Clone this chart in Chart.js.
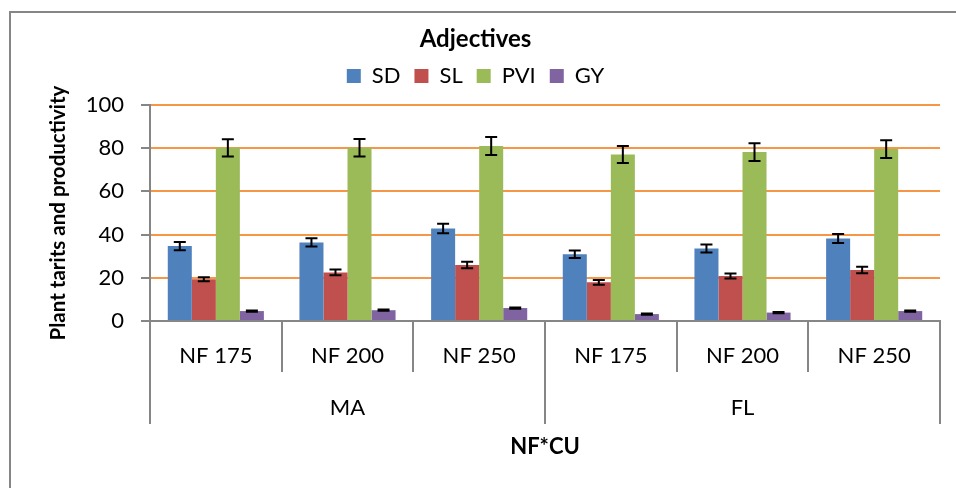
<!DOCTYPE html>
<html>
<head>
<meta charset="utf-8">
<script src="https://cdn.jsdelivr.net/npm/chart.js@4/dist/chart.umd.min.js"></script>
<style>
  html, body { margin: 0; padding: 0; background: #fff; }
  #frame {
    position: absolute; left: 9px; top: 11px;
    width: 945px; height: 475px;
    border-left: 2px solid #868686; border-top: 2px solid #868686;
  }
  canvas { display: block; }
</style>
</head>
<body>
<div id="frame"><canvas id="chart" width="945" height="475"></canvas></div>
<script>
// values
const categories = ["NF 175", "NF 200", "NF 250", "NF 175", "NF 200", "NF 250"];
const groups = ["MA", "FL"];
const seriesNames = ["SD", "SL", "PVI", "GY"];
const sdValues = [34.7, 36.4, 42.8, 30.9, 33.6, 38.2];
const slValues = [19.3, 22.5, 25.9, 17.9, 20.8, 23.6];
const pviValues = [80.2, 80.2, 81.0, 77.1, 78.2, 79.6];
const gyValues = [4.6, 5.0, 6.0, 3.2, 3.9, 4.6];
const sdErrors = [1.9, 1.9, 2.2, 1.7, 1.85, 2.1];
const slErrors = [0.9, 1.3, 1.5, 1.1, 1.15, 1.5];
const pviErrors = [4.0, 4.1, 4.2, 3.9, 4.1, 4.1];
const gyErrors = [0.3, 0.3, 0.3, 0.3, 0.3, 0.3];
const yTicks = [0, 20, 40, 60, 80, 100];

const colors = ["#4F81BD", "#C0504D", "#9BBB59", "#8064A2"];
const axisGray = "#868686";

Chart.defaults.font.family = "Lato, 'Open Sans', sans-serif";
Chart.defaults.color = "#000";

// draws the +/- error whiskers on top of each bar
const errorBars = {
  id: "errorBars",
  afterDatasetsDraw(chart) {
    const ctx = chart.ctx;
    const y = chart.scales.y;
    ctx.save();
    ctx.strokeStyle = "#000";
    ctx.lineWidth = 2;
    chart.data.datasets.forEach((ds, i) => {
      const meta = chart.getDatasetMeta(i);
      meta.data.forEach((bar, j) => {
        const v = ds.data[j], e = ds.errors[j];
        const top = y.getPixelForValue(v + e);
        const bottom = y.getPixelForValue(v - e);
        ctx.beginPath();
        ctx.moveTo(bar.x, top); ctx.lineTo(bar.x, bottom);
        ctx.moveTo(bar.x - 6, top); ctx.lineTo(bar.x + 6, top);
        ctx.moveTo(bar.x - 6, bottom); ctx.lineTo(bar.x + 6, bottom);
        ctx.stroke();
      });
    });
    ctx.restore();
  }
};

// the two-level category axis: short dividers between NF levels,
// long ones between the MA / FL groups
const groupDividers = {
  id: "groupDividers",
  afterDraw(chart) {
    const ctx = chart.ctx;
    const x = chart.scales.x, x2 = chart.scales.x2;
    const n = x.ticks.length;
    const step = x.width / n;
    const gstep = x2.width / groups.length;
    ctx.save();
    ctx.strokeStyle = axisGray;
    ctx.lineWidth = 2;
    ctx.beginPath();
    for (let i = 0; i <= n; i++) {
      const px = Math.round(x.left + i * step);
      ctx.moveTo(px, x.top); ctx.lineTo(px, x.bottom);
    }
    for (let g = 0; g <= groups.length; g++) {
      const px = Math.round(x2.left + g * gstep);
      ctx.moveTo(px, x.top); ctx.lineTo(px, x2.top + 52);
    }
    ctx.stroke();
    ctx.restore();
  }
};

const allValues = [sdValues, slValues, pviValues, gyValues];
const allErrors = [sdErrors, slErrors, pviErrors, gyErrors];

new Chart(document.getElementById("chart"), {
  type: "bar",
  data: {
    labels: categories,
    datasets: seriesNames.map((name, i) => ({
      label: name,
      data: allValues[i],
      errors: allErrors[i],
      xAxisID: "x",
      yAxisID: "y",
      backgroundColor: colors[i],
      borderWidth: 0,
      barPercentage: 1,
      categoryPercentage: 0.73
    }))
  },
  options: {
    responsive: false,
    animation: false,
    layout: { padding: { top: 8, right: 16, bottom: 16, left: 0 } },
    plugins: {
      title: {
        display: true,
        text: "Adjectives",
        font: { size: 24, weight: "bold", lineHeight: 1 },
        padding: { top: 6, bottom: 0 }
      },
      legend: {
        labels: { boxWidth: 14, boxHeight: 14, padding: 14, font: { size: 22 } }
      },
      tooltip: { enabled: false }
    },
    scales: {
      x: {
        afterFit: (s) => { s.height = 51; },
        ticks: { font: { size: 22 }, padding: 14, maxRotation: 0, autoSkip: false },
        grid: { display: false },
        border: { color: axisGray, width: 2 }
      },
      x2: {
        type: "category",
        position: "bottom",
        labels: groups,
        offset: true,
        afterFit: (s) => { s.height = 100; },
        ticks: { font: { size: 22 }, padding: 15, maxRotation: 0 },
        grid: { display: false },
        border: { display: false },
        title: {
          display: true,
          text: "NF*CU",
          font: { size: 22, weight: "bold" },
          padding: { top: 0, bottom: 12 }
        }
      },
      // empty strip that keeps a little room between the legend and the plot
      spacer: {
        type: "category",
        position: "top",
        labels: [""],
        afterFit: (s) => { s.height = 8; },
        ticks: { display: false },
        grid: { display: false },
        border: { display: false }
      },
      y: {
        min: 0, max: 100,
        afterBuildTicks: (s) => { s.ticks = yTicks.map(v => ({ value: v })); },
        afterFit: (s) => { s.width = 139; },
        ticks: { font: { size: 22 }, padding: 17 },
        grid: { color: "#F79646", lineWidth: 2, tickColor: axisGray, tickLength: 9 },
        border: { color: axisGray, width: 2 },
        title: {
          display: true,
          text: "Plant tarits and productivity",
          font: { size: 20.5, weight: "bold" },
          padding: { top: 35, bottom: 0 }
        }
      }
    }
  },
  plugins: [errorBars, groupDividers]
});
</script>
</body>
</html>
